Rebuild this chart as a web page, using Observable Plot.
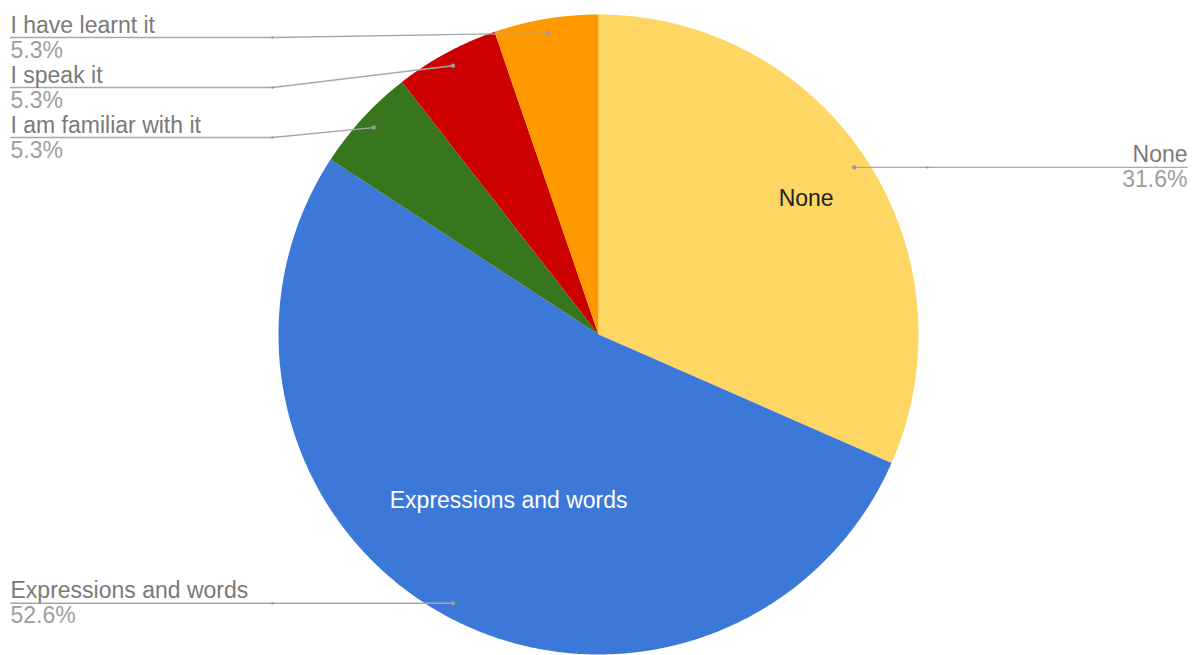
<!DOCTYPE html>
<html><head><meta charset="utf-8">
<script src="https://cdn.jsdelivr.net/npm/d3@7"></script>
<script src="https://cdn.jsdelivr.net/npm/@observablehq/plot@0.6"></script>
<style>
  html,body{margin:0;padding:0;background:#fff}
  #chart{width:1200px;height:655px;overflow:hidden}
</style>
</head><body><div id="chart"></div>
<script>
// ---- data ----
const categories = ["None", "Expressions and words", "I am familiar with it", "I speak it", "I have learnt it"];
const counts = [6, 10, 1, 1, 1];
const colors = ["#fdd663", "#3c78d8", "#38761d", "#cc0000", "#ff9900"];
const insideTextColors = ["#222222", "#ffffff", "#ffffff", "#ffffff", "#ffffff"];

// ---- layout ----
const W = 1200, H = 655, CX = 598, CY = 334, R = 320;
const FONT = "'Liberation Sans', Arial, Helvetica, sans-serif";
const total = d3.sum(counts);
const fmt = d3.format(".1%");

const rows = categories.map((c, i) => ({category: c, value: counts[i], textColor: insideTextColors[i]}));
const arcs = d3.pie().sort(null).value(d => d.value)(rows);

// polygon points for each slice (angle clockwise from 12 o'clock, y up)
const slicePts = [];
for (const s of arcs) {
  const n = Math.max(4, Math.ceil((s.endAngle - s.startAngle) / 0.005));
  slicePts.push({category: s.data.category, x: 0, y: 0});
  for (let k = 0; k <= n; k++) {
    const a = s.startAngle + (s.endAngle - s.startAngle) * k / n;
    slicePts.push({category: s.data.category, x: Math.sin(a), y: Math.cos(a)});
  }
}

// outside labels with simple vertical collision avoidance
const toPy = y => CY - y * R, fromPy = py => (CY - py) / R;
const labels = arcs.map(s => {
  const a = (s.startAngle + s.endAngle) / 2;
  const share = s.data.value / total;
  return {
    category: s.data.category, pct: fmt(share), share, a,
    textColor: s.data.textColor,
    dx: Math.sin(a) * 0.955, dy: Math.cos(a) * 0.955,
    side: Math.sin(a) < 0 ? "left" : "right"
  };
});
for (const side of ["left", "right"]) {
  const ls = labels.filter(l => l.side === side).sort((a, b) => toPy(a.dy) - toPy(b.dy));
  let prev = -Infinity;
  for (const l of ls) {
    const py = Math.max(toPy(l.dy), 37, prev + 50);
    l.ly = fromPy(py);
    prev = py;
  }
}
const elbowL = -(CX - 272) / R, elbowR = (927 - CX) / R;
const endL = (10 - CX) / R, endR = (1187 - CX) / R;
const leaderPts = [];
for (const l of labels) {
  const left = l.side === "left";
  l.ex = left ? elbowL : elbowR;
  l.tx = left ? endL : endR;
  leaderPts.push({category: l.category, x: l.dx, y: l.dy});
  leaderPts.push({category: l.category, x: l.ex, y: l.ly});
  leaderPts.push({category: l.category, x: l.tx, y: l.ly});
}
// inside labels for large slices
const inside = labels.filter(l => l.share > 0.1).map(l => {
  const r = l.share > 0.5 ? 0.59 : 0.775;
  return {...l, ix: Math.sin(l.a) * r, iy: Math.cos(l.a) * r};
});

const outerText = (side, anchor) => [
  Plot.text(labels.filter(l => l.side === side), {
    x: "tx", y: "ly", text: "category", textAnchor: anchor, lineAnchor: "bottom",
    dy: -5, fontSize: 23, fill: "#7a7a7a", fontFamily: FONT
  }),
  Plot.text(labels.filter(l => l.side === side), {
    x: "tx", y: "ly", text: "pct", textAnchor: anchor, lineAnchor: "bottom",
    dy: 20, fontSize: 23, fill: "#9e9e9e", fontFamily: FONT
  })
];

const chart = Plot.plot({
  width: W, height: H,
  marginTop: 0, marginRight: 0, marginBottom: 0, marginLeft: 0,
  x: {domain: [-CX / R, (W - CX) / R], axis: null},
  y: {domain: [-(H - CY) / R, CY / R], axis: null},
  color: {domain: categories, range: colors},
  style: {fontFamily: FONT, background: "#fff", overflow: "visible"},
  marks: [
    Plot.line(slicePts, {x: "x", y: "y", z: "category", fill: "category", stroke: "none", curve: "linear"}),
    Plot.line(leaderPts, {x: "x", y: "y", z: "category", stroke: "#a8a8a8", strokeWidth: 1.3, curve: "linear"}),
    Plot.dot(labels, {x: "dx", y: "dy", r: 2.2, fill: "#999", stroke: "none"}),
    Plot.dot(labels, {x: "ex", y: "ly", r: 1.2, fill: "#999", stroke: "none"}),
    ...outerText("left", "start"),
    ...outerText("right", "end"),
    Plot.text(inside, {x: "ix", y: "iy", text: "category", fill: "textColor", fontSize: 23, lineAnchor: "middle", fontFamily: FONT})
  ]
});
document.getElementById("chart").appendChild(chart);
</script>
</body></html>
